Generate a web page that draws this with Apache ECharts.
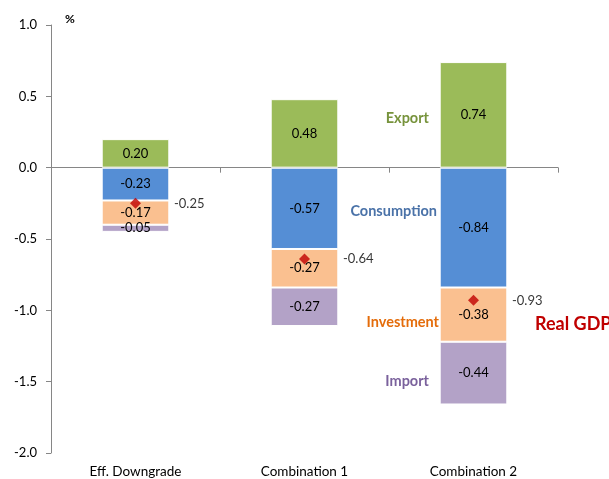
<!DOCTYPE html>
<html><head><meta charset="utf-8">
<script src="https://cdn.jsdelivr.net/npm/echarts@6/dist/echarts.min.js"></script>
<style>html,body{margin:0;padding:0;background:#fff}#c{width:609px;height:479px}</style>
</head><body><div id="c"></div>
<script>
const categories = ['Eff. Downgrade', 'Combination 1', 'Combination 2'];
const exportVals = [0.20, 0.48, 0.74];
const consumptionVals = [-0.23, -0.57, -0.84];
const investmentVals = [-0.17, -0.27, -0.38];
const importVals = [-0.05, -0.27, -0.44];
const gdpVals = [-0.25, -0.64, -0.93];

const FONT = 'Lato';
const chart = echarts.init(document.getElementById('c'));
function barSeries(name, data, color) {
  return {
    name, type: 'bar', stack: 'total', data, xAxisIndex: 0, barWidth: '40%',
    itemStyle: { color, borderColor: '#fff', borderWidth: 1 },
    label: { show: true, position: 'inside', color: '#000', fontSize: 13, fontFamily: FONT,
      formatter: p => p.value.toFixed(2) }
  };
}
chart.setOption({
  animation: false,
  grid: { left: 51, right: 51, top: 25, bottom: 26 },
  xAxis: [
    { type: 'category', data: categories,
      axisLine: { onZero: true, lineStyle: { color: '#868686' } },
      axisTick: { show: true, length: 5, lineStyle: { color: '#868686' } },
      axisLabel: { show: false } },
    { type: 'category', data: categories, position: 'bottom',
      axisLine: { show: false, onZero: false }, axisTick: { show: false },
      axisLabel: { color: '#000', fontSize: 13.5, fontFamily: FONT, margin: 12 } }
  ],
  yAxis: {
    type: 'value', min: -2, max: 1, interval: 0.5,
    axisLine: { show: true, lineStyle: { color: '#868686' } },
    axisTick: { show: true, length: 5, lineStyle: { color: '#868686' } },
    splitLine: { show: false },
    axisLabel: { color: '#000', fontSize: 13, fontFamily: FONT, margin: 14, formatter: v => v.toFixed(1) }
  },
  series: [
    barSeries('Export', exportVals, '#9BBB59'),
    barSeries('Consumption', consumptionVals, '#558ED5'),
    barSeries('Investment', investmentVals, '#FAC090'),
    barSeries('Import', importVals, '#B3A2C7'),
    { name: 'Real GDP', type: 'scatter', data: gdpVals, xAxisIndex: 0, symbol: 'diamond', symbolSize: 11,
      itemStyle: { color: '#C00000' }, z: 5,
      label: { show: true, position: 'right', distance: 33, color: '#000', fontSize: 13, fontFamily: FONT,
        formatter: p => p.value.toFixed(2) } }
  ],
  graphic: [
    { type: 'text', left: 65, top: 13, style: { text: '%', font: 'bold 12px ' + FONT, fill: '#000' } },
    { type: 'text', x: 429, y: 118, style: { text: 'Export', font: 'bold 14.5px ' + FONT, fill: '#77933C', align: 'right', verticalAlign: 'middle' } },
    { type: 'text', x: 437, y: 211, style: { text: 'Consumption', font: 'bold 14.5px ' + FONT, fill: '#4A72A8', align: 'right', verticalAlign: 'middle' } },
    { type: 'text', x: 439, y: 322, style: { text: 'Investment', font: 'bold 14.5px ' + FONT, fill: '#E46C0A', align: 'right', verticalAlign: 'middle' } },
    { type: 'text', x: 429, y: 381, style: { text: 'Import', font: 'bold 14.5px ' + FONT, fill: '#7A619C', align: 'right', verticalAlign: 'middle' } },
    { type: 'text', x: 535, y: 324, style: { text: 'Real GDP', font: 'bold 18px ' + FONT, fill: '#C00000', align: 'left', verticalAlign: 'middle' } }
  ]
});
</script></body></html>
